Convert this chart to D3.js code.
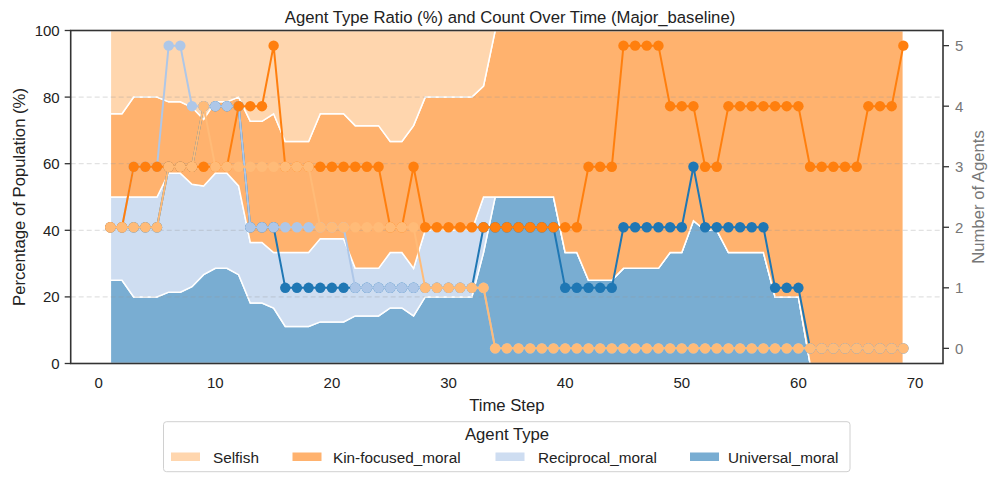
<!DOCTYPE html>
<html>
<head>
<meta charset="utf-8">
<script src="https://cdn.jsdelivr.net/npm/d3@7"></script>
<style>
  body { margin: 0; background: #fff; }
  svg { display: block; font-family: "Liberation Sans", Arial, sans-serif; }
</style>
</head>
<body>
<svg id="chart" width="997" height="482"></svg>
<script>
// time steps 1..69
const steps = d3.range(1, 70);

// agent counts per step
const universal = [2,2,2,2,2, 3,3,3, 4,4,4,4, 2,2,2,
    1,1,1,1,1,1,1,1,1,1,1,1,1,1,1,1,1,
    2,2,2,2,2,2,2, 1,1,1,1,1, 2,2,2,2,2,2, 3, 2,2,2,2,2,2, 1,1,1,
    0,0,0,0,0,0,0,0,0];
const reciprocal = [2,2, 3,3,3, 5,5, 4,4,4,4,4, 2,2,2,2,2,2,2,2,2,
    1,1,1,1,1,1,1,1,1,1,1,1,
    0,0,0,0,0,0,0,0,0,0,0,0,0,0,0,0,0,0,0,0,0,0,0,0,0,0,0,0,0,0,0,0,0,0,0,0];
const kin = [2,2, 3,3,3,3,3,3,3,3,3, 4,4,4, 5, 3,3,3,3,3,3,3,3,3, 2,2, 3,
    2,2,2,2,2,2,2,2,2,2,2,2,2,2, 3,3,3, 5,5,5,5, 4,4,4, 3,3,
    4,4,4,4,4,4,4, 3,3,3,3,3, 4,4,4, 5];
const selfish = [2,2,2,2,2, 3,3,3, 4, 3,3,3,3,3,3,3,3,3, 2,2,2,2,2,2,2,2,2,
    1,1,1,1,1,1,
    0,0,0,0,0,0,0,0,0,0,0,0,0,0,0,0,0,0,0,0,0,0,0,0,0,0,0,0,0,0,0,0,0,0,0,0];

const types = ["Selfish", "Kin-focused_moral", "Reciprocal_moral", "Universal_moral"];
const counts = {
    "Selfish": selfish,
    "Kin-focused_moral": kin,
    "Reciprocal_moral": reciprocal,
    "Universal_moral": universal
};
const lineColor = {
    "Selfish": "#ffbb78",
    "Kin-focused_moral": "#ff7f0e",
    "Reciprocal_moral": "#aec7e8",
    "Universal_moral": "#1f77b4"
};

const xTicks = [0, 10, 20, 30, 40, 50, 60, 70];
const pctTicks = [0, 20, 40, 60, 80, 100];
const cntTicks = [0, 1, 2, 3, 4, 5];

const W = 997, H = 482;
const m = { left: 70.7, right: 943, top: 30.5, bottom: 363.5 };

const svg = d3.select("#chart");

const x = d3.scaleLinear().domain([-2.4, 72.4]).range([m.left, m.right]);
const yPct = d3.scaleLinear().domain([0, 100]).range([m.bottom, m.top]);
const yCnt = d3.scaleLinear().domain([-0.25, 5.25]).range([m.bottom, m.top]);

// percentage table built from counts
const rows = steps.map((s, i) => {
    let total = types.reduce((a, t) => a + counts[t][i], 0);
    let r = { step: s };
    types.forEach(t => r[t] = total ? counts[t][i] / total * 100 : 0);
    return r;
});

// stack bottom -> top
const stackOrder = ["Universal_moral", "Reciprocal_moral", "Kin-focused_moral", "Selfish"];
const series = d3.stack().keys(stackOrder)(rows);

const area = d3.area()
    .x(d => x(d.data.step))
    .y0(d => yPct(d[0]))
    .y1(d => yPct(d[1]));

const plot = svg.append("g");

plot.selectAll("path.area")
    .data(series)
    .enter().append("path")
    .attr("class", "area")
    .attr("d", area)
    .attr("fill", d => lineColor[d.key])
    .attr("fill-opacity", 0.6)
    .attr("stroke", "#fff")
    .attr("stroke-width", 1.5)
    .attr("stroke-linejoin", "miter");

// grid
plot.selectAll("line.grid")
    .data(pctTicks.filter(v => v > 0 && v < 100))
    .enter().append("line")
    .attr("x1", m.left).attr("x2", m.right)
    .attr("y1", d => yPct(d)).attr("y2", d => yPct(d))
    .attr("stroke", "#999")
    .attr("stroke-opacity", 0.35)
    .attr("stroke-width", 1)
    .attr("stroke-dasharray", "5,3");

// count lines
const line = d3.line()
    .x((d, i) => x(steps[i]))
    .y(d => yCnt(d));

stackOrder.forEach(t => {
    let g = plot.append("g");
    g.append("path")
        .attr("d", line(counts[t]))
        .attr("fill", "none")
        .attr("stroke", lineColor[t])
        .attr("stroke-width", 2);
    g.selectAll("circle")
        .data(counts[t])
        .enter().append("circle")
        .attr("cx", (d, i) => x(steps[i]))
        .attr("cy", d => yCnt(d))
        .attr("r", 5.2)
        .attr("fill", lineColor[t]);
});

// frame
svg.append("rect")
    .attr("x", m.left).attr("y", m.top)
    .attr("width", m.right - m.left).attr("height", m.bottom - m.top)
    .attr("fill", "none")
    .attr("stroke", "#333")
    .attr("stroke-width", 1.6);

// left axis
const left = svg.append("g");
pctTicks.forEach(v => {
    left.append("line")
        .attr("x1", m.left - 6).attr("x2", m.left)
        .attr("y1", yPct(v)).attr("y2", yPct(v))
        .attr("stroke", "#333").attr("stroke-width", 1.3);
    left.append("text")
        .attr("x", m.left - 11).attr("y", yPct(v))
        .attr("dy", "0.36em")
        .attr("text-anchor", "end")
        .attr("font-size", 15)
        .attr("fill", "#222")
        .text(v);
});

// right axis
const right = svg.append("g");
cntTicks.forEach(v => {
    right.append("line")
        .attr("x1", m.right).attr("x2", m.right + 6)
        .attr("y1", yCnt(v)).attr("y2", yCnt(v))
        .attr("stroke", "#333").attr("stroke-width", 1.3);
    right.append("text")
        .attr("x", m.right + 12).attr("y", yCnt(v))
        .attr("dy", "0.36em")
        .attr("font-size", 15)
        .attr("fill", "#777")
        .text(v);
});

// bottom axis labels (no tick marks)
xTicks.forEach(v => {
    svg.append("text")
        .attr("x", x(v)).attr("y", 388)
        .attr("text-anchor", "middle")
        .attr("font-size", 15)
        .attr("fill", "#222")
        .text(v);
});

svg.append("text")
    .attr("x", (m.left + m.right) / 2).attr("y", 411)
    .attr("text-anchor", "middle")
    .attr("font-size", 16.7)
    .attr("fill", "#222")
    .text("Time Step");

svg.append("text")
    .attr("transform", "translate(18.5," + (m.top + m.bottom) / 2 + ") rotate(-90)")
    .attr("dy", "0.36em")
    .attr("text-anchor", "middle")
    .attr("font-size", 16.7)
    .attr("fill", "#222")
    .text("Percentage of Population (%)");

svg.append("text")
    .attr("transform", "translate(978," + (m.top + m.bottom) / 2 + ") rotate(-90)")
    .attr("dy", "0.36em")
    .attr("text-anchor", "middle")
    .attr("font-size", 16.7)
    .attr("fill", "#777")
    .text("Number of Agents");

svg.append("text")
    .attr("x", 510).attr("y", 23)
    .attr("text-anchor", "middle")
    .attr("font-size", 16.7)
    .attr("fill", "#222")
    .text("Agent Type Ratio (%) and Count Over Time (Major_baseline)");

// legend
const lg = svg.append("g");
lg.append("rect")
    .attr("x", 163.5).attr("y", 421.7)
    .attr("width", 686.5).attr("height", 50)
    .attr("rx", 3)
    .attr("fill", "#fff")
    .attr("stroke", "#d0d0d0")
    .attr("stroke-width", 1);
lg.append("text")
    .attr("x", 507).attr("y", 440)
    .attr("text-anchor", "middle")
    .attr("font-size", 16.7)
    .attr("fill", "#222")
    .text("Agent Type");

const patchX = [171, 292.5, 495.5, 690];
const labelX = [213, 333, 538, 728];
types.forEach((t, i) => {
    lg.append("rect")
        .attr("x", patchX[i]).attr("y", 452.5)
        .attr("width", 29).attr("height", 8.5)
        .attr("fill", lineColor[t])
        .attr("fill-opacity", 0.6);
    lg.append("text")
        .attr("x", labelX[i]).attr("y", 462.5)
        .attr("font-size", 15.3)
        .attr("fill", "#222")
        .text(t);
});
</script>
</body>
</html>
